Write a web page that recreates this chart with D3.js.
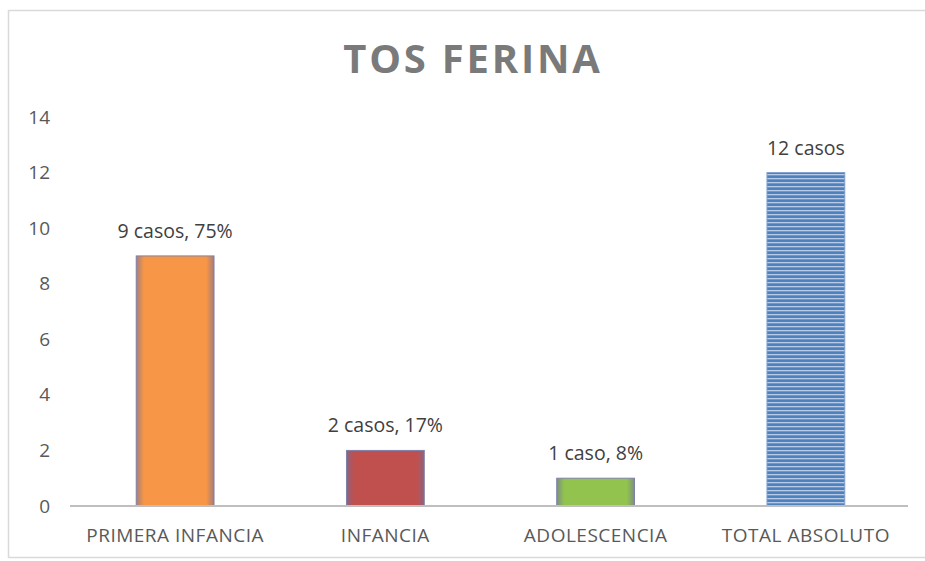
<!DOCTYPE html>
<html lang="es">
    <head>
        <meta charset="utf-8">
        <title>Tos ferina</title>
        <script src="https://d3js.org/d3.v7.min.js"></script>
        <style type="text/css">
            body { margin: 0; background: white; }
            .axis text {
                font-family: "Open Sans", sans-serif;
                font-size: 19px;
                fill: #595959;
            }
            .xaxis text {
                letter-spacing: 0.5px;
            }
            .label {
                font-family: "Open Sans", sans-serif;
                font-size: 19.5px;
                fill: #404040;
            }
            .title {
                font-family: "Open Sans", sans-serif;
                font-size: 40px;
                font-weight: bold;
                fill: #7a7a7a;
                letter-spacing: 2.8px;
            }
        </style>
    </head>
    <body>
        <script type="text/javascript">

            const w = 925;
            const h = 561;

            // data
            const categories = ["PRIMERA INFANCIA", "INFANCIA", "ADOLESCENCIA", "TOTAL ABSOLUTO"];
            const values = [9, 2, 1, 12];
            const barLabels = ["9 casos, 75%", "2 casos, 17%", "1 caso, 8%", "12 casos"];
            const yTicks = [0, 2, 4, 6, 8, 10, 12, 14];
            const barColors = ["#F79646", "#C0504D", "#92C34F", "#4F81BD"];

            const svg = d3.select("body")
                .append("svg")
                .attr("width", w)
                .attr("height", h);

            // chart frame
            svg.append("rect")
                .attr("x", 8.5)
                .attr("y", 10.5)
                .attr("width", 960)
                .attr("height", 547)
                .attr("fill", "white")
                .attr("stroke", "#d9d9d9")
                .attr("stroke-width", 1.5);

            const defs = svg.append("defs");

            // soft edge gradients for the solid bars
            barColors.slice(0, 3).forEach((c, i) => {
                const g = defs.append("linearGradient")
                    .attr("id", "grad" + i)
                    .attr("x1", "0").attr("x2", "1").attr("y1", "0").attr("y2", "0");
                g.append("stop").attr("offset", "0%").attr("stop-color", d3.interpolateRgb(c, "#6e6e9e")(0.6));
                g.append("stop").attr("offset", "10%").attr("stop-color", c);
                g.append("stop").attr("offset", "90%").attr("stop-color", c);
                g.append("stop").attr("offset", "100%").attr("stop-color", d3.interpolateRgb(c, "#6e6e9e")(0.6));
            });

            // striped pattern for the total bar
            const pat = defs.append("pattern")
                .attr("id", "stripes")
                .attr("patternUnits", "userSpaceOnUse")
                .attr("width", 8)
                .attr("height", 4);
            pat.append("rect").attr("width", 8).attr("height", 4).attr("fill", "#4F81BD");
            pat.append("rect").attr("y", 2).attr("width", 8).attr("height", 1.3).attr("fill", "#b7cbe8");

            //scales
            const xScale = d3.scaleBand()
                .domain(categories)
                .range([70, 911])
                .paddingInner(0.63)
                .paddingOuter(0.315);

            const yScale = d3.scaleLinear()
                .domain([0, 14])
                .range([506, 117]);

            //title
            svg.append("text")
                .attr("class", "title")
                .attr("x", 473)
                .attr("y", 73)
                .attr("text-anchor", "middle")
                .text("TOS FERINA");

            //left axis (labels only)
            const leftAxis = d3.axisLeft(yScale)
                .tickValues(yTicks)
                .tickSize(0)
                .tickPadding(0);

            svg.append("g")
                .attr("class", "axis")
                .attr("transform", "translate(50,0)")
                .call(leftAxis)
                .call(g => g.select(".domain").remove());

            //bars
            svg.selectAll(".bar")
                .data(values)
                .join("rect")
                .attr("class", "bar")
                .attr("x", (d, i) => xScale(categories[i]))
                .attr("y", d => yScale(d))
                .attr("width", xScale.bandwidth())
                .attr("height", d => yScale(0) - yScale(d))
                .attr("fill", (d, i) => i < 3 ? "url(#grad" + i + ")" : "url(#stripes)")
                .attr("stroke", (d, i) => i < 3 ? "#8080a8" : "#7f9fd0")
                .attr("stroke-width", 1);

            //bar labels
            svg.selectAll(".label")
                .data(values)
                .join("text")
                .attr("class", "label")
                .attr("x", (d, i) => xScale(categories[i]) + xScale.bandwidth() / 2)
                .attr("y", d => yScale(d) - 18)
                .attr("text-anchor", "middle")
                .text((d, i) => barLabels[i]);

            //bottom axis
            const bottomAxis = d3.axisBottom(xScale)
                .tickSize(0)
                .tickPadding(23);

            const xg = svg.append("g")
                .attr("class", "axis xaxis")
                .attr("transform", "translate(0,506)")
                .call(bottomAxis);
            xg.select(".domain").remove();
            xg.append("line")
                .attr("x1", 70)
                .attr("x2", 908)
                .attr("stroke", "#bfbfbf")
                .attr("stroke-width", 2);

        </script>
    </body>
</html>
